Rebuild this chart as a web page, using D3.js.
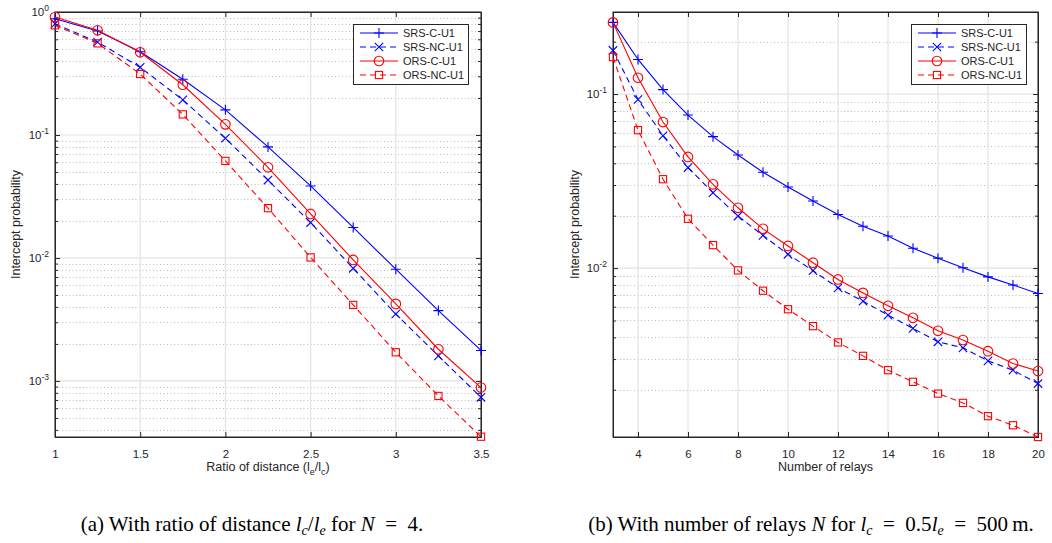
<!DOCTYPE html>
<html>
<head>
<meta charset="utf-8">
<script src="https://cdn.jsdelivr.net/npm/d3@7"></script>
<style>
  body { margin: 0; background: #fff; }
  text { font-family: "Liberation Sans", Arial, sans-serif; fill: #262626; }
  .cap { font-family: "Liberation Serif", "Times New Roman", serif; fill: #000; }
</style>
</head>
<body>
<svg width="1052" height="543"></svg>
<script>
// panel (a): ratio of distance
var ratios = [1, 1.25, 1.5, 1.75, 2, 2.25, 2.5, 2.75, 3, 3.25, 3.5]
var aSrsC  = [0.88, 0.70, 0.475, 0.284, 0.160, 0.080, 0.0385, 0.0177, 0.0081, 0.00373, 0.00177]
var aSrsNC = [0.80, 0.57, 0.355, 0.193, 0.094, 0.043, 0.0194, 0.00824, 0.0035, 0.0016, 0.000736]
var aOrsC  = [0.91, 0.71, 0.47, 0.256, 0.122, 0.0546, 0.0228, 0.00964, 0.00423, 0.00181, 0.000883]
var aOrsNC = [0.78, 0.556, 0.313, 0.147, 0.0615, 0.0254, 0.0101, 0.00415, 0.00171, 0.000755, 0.000352]
var aXTicks = [1, 1.5, 2, 2.5, 3, 3.5]

// panel (b): number of relays
var relays = [3, 4, 5, 6, 7, 8, 9, 10, 11, 12, 13, 14, 15, 16, 17, 18, 19, 20]
var bSrsC  = [0.258, 0.158, 0.106, 0.0757, 0.0569, 0.0446, 0.0355, 0.0292, 0.0243, 0.0203, 0.0174, 0.0153, 0.0130, 0.0114, 0.01005, 0.0089, 0.0080, 0.00714]
var bSrsNC = [0.178, 0.093, 0.0576, 0.0378, 0.0271, 0.0199, 0.0154, 0.0120, 0.00966, 0.0077, 0.00645, 0.00537, 0.0045, 0.00377, 0.00348, 0.00293, 0.00259, 0.00217]
var bOrsC  = [0.258, 0.124, 0.069, 0.0435, 0.0303, 0.0222, 0.0168, 0.0134, 0.01074, 0.0086, 0.0072, 0.00607, 0.00518, 0.00436, 0.00386, 0.00333, 0.00283, 0.00256]
var bOrsNC = [0.163, 0.062, 0.0324, 0.0192, 0.01355, 0.0097, 0.00741, 0.0058, 0.00464, 0.00374, 0.00313, 0.00259, 0.00222, 0.0019, 0.00168, 0.00141, 0.00125, 0.00107]
var bXTicks = [4, 6, 8, 10, 12, 14, 16, 18, 20]

var seriesNames = ['SRS-C-U1', 'SRS-NC-U1', 'ORS-C-U1', 'ORS-NC-U1']
var seriesColors = ['#0000ff', '#0000ff', '#ff0000', '#ff0000']
var seriesDash = [null, '6,4', null, '6,4']
var seriesMarks = ['plus', 'cross', 'circle', 'square']

var svg = d3.select('svg')

function marker(g, kind, color) {
  if (kind == 'plus') {
    g.append('path').attr('d', 'M-5,0H5M0,-5V5')
  } else if (kind == 'cross') {
    g.append('path').attr('d', 'M-4.2,-4.2L4.2,4.2M-4.2,4.2L4.2,-4.2')
  } else if (kind == 'circle') {
    g.append('circle').attr('r', 4.8)
  } else {
    g.append('rect').attr('x', -3.6).attr('y', -3.6).attr('width', 7.2).attr('height', 7.2)
  }
  g.selectAll('*').attr('fill', 'none').attr('stroke', color).attr('stroke-width', 1.1)
}

function panel(cfg) {
  var x = d3.scaleLinear().domain(cfg.xdom).range([cfg.left, cfg.right])
  var y = d3.scaleLog().domain(cfg.ydom).range([437, 12])
  var g = svg.append('g')
  var top = 12, bot = 437

  // log ticks
  var d0 = Math.floor(Math.log10(cfg.ydom[0])), d1 = Math.ceil(Math.log10(cfg.ydom[1]))
  var minor = [], major = []
  for (var d = d0; d <= d1; d++) {
    for (var k = 1; k < 10; k++) {
      var v = k * Math.pow(10, d)
      if (v < cfg.ydom[0] * 0.999 || v > cfg.ydom[1] * 1.001) continue
      if (k == 1) major.push(v); else minor.push(v)
    }
  }

  // grid
  g.selectAll('.mg').data(minor).enter().append('line')
    .attr('x1', cfg.left).attr('x2', cfg.right)
    .attr('y1', function (d) { return Math.round(y(d)) + .5 }).attr('y2', function (d) { return Math.round(y(d)) + .5 })
    .attr('stroke', '#bdbdbd').attr('stroke-dasharray', '1,2.5')
  g.selectAll('.Mg').data(major).enter().append('line')
    .attr('x1', cfg.left).attr('x2', cfg.right)
    .attr('y1', function (d) { return y(d) }).attr('y2', function (d) { return y(d) })
    .attr('stroke', '#e3e3e3').attr('stroke-width', 1.2)
  g.selectAll('.xg').data(cfg.xticks).enter().append('line')
    .attr('y1', top).attr('y2', bot)
    .attr('x1', function (d) { return x(d) }).attr('x2', function (d) { return x(d) })
    .attr('stroke', '#e3e3e3').attr('stroke-width', 1.2)

  // axes
  var xa = g.append('g').attr('transform', 'translate(0,' + bot + ')')
    .call(d3.axisBottom(x).tickValues(cfg.xticks).tickSize(-5).tickPadding(13).tickFormat(d3.format('')))
  xa.selectAll('text').attr('font-size', 11.5)
  g.append('g').attr('transform', 'translate(0,' + top + ')')
    .call(d3.axisTop(x).tickValues(cfg.xticks).tickSize(-5).tickFormat(''))

  var ya = g.append('g').attr('transform', 'translate(' + cfg.left + ',0)')
    .call(d3.axisLeft(y).tickValues(major.concat(minor)).tickSize(-5).tickPadding(9).tickFormat(''))
  ya.selectAll('.tick line').attr('x2', function (d) { return major.indexOf(d) >= 0 ? 5 : 3 })
  g.append('g').attr('transform', 'translate(' + cfg.right + ',0)')
    .call(d3.axisRight(y).tickValues(major.concat(minor)).tickSize(-5).tickFormat(''))
    .selectAll('.tick line').attr('x2', function (d) { return major.indexOf(d) >= 0 ? -5 : -3 })

  g.selectAll('.domain').attr('stroke', '#262626')
  g.selectAll('.tick line').attr('stroke', '#262626')

  // y tick labels with superscript
  major.forEach(function (v) {
    var t = g.append('text').attr('x', cfg.left - 6).attr('y', y(v) + 4)
      .attr('text-anchor', 'end').attr('font-size', 11.5)
    t.append('tspan').text('10')
    t.append('tspan').attr('dy', -5).attr('font-size', 8.5).text(Math.round(Math.log10(v)))
  })

  // box outline
  g.append('rect').attr('x', cfg.left).attr('y', top).attr('width', cfg.right - cfg.left).attr('height', bot - top)
    .attr('fill', 'none').attr('stroke', '#262626').attr('stroke-width', 1)

  // series
  var line = d3.line().x(function (d) { return x(d[0]) }).y(function (d) { return y(d[1]) })
  cfg.series.forEach(function (s, i) {
    var pts = cfg.xs.map(function (xv, j) { return [xv, s[j]] })
    g.append('path').attr('d', line(pts)).attr('fill', 'none')
      .attr('stroke', seriesColors[i]).attr('stroke-width', 1.1)
      .attr('stroke-dasharray', seriesDash[i])
    pts.forEach(function (p) {
      marker(g.append('g').attr('transform', 'translate(' + x(p[0]) + ',' + y(p[1]) + ')'), seriesMarks[i], seriesColors[i])
    })
  })

  // labels
  var xl = g.append('text').attr('x', (cfg.left + cfg.right) / 2).attr('y', 471)
    .attr('text-anchor', 'middle').attr('font-size', 12.5)
  cfg.xlabel(xl)
  g.append('text').attr('transform', 'translate(' + cfg.ylabx + ',' + (top + bot) / 2 + ') rotate(-90)')
    .attr('text-anchor', 'middle').attr('font-size', 12.5).text('Intercept probability')

  // legend
  var lx = cfg.legx, ly = 24
  var lg = g.append('g').attr('transform', 'translate(' + lx + ',' + ly + ')')
  lg.append('rect').attr('x', .5).attr('y', .5).attr('width', 115).attr('height', 60)
    .attr('fill', '#fff').attr('stroke', '#262626')
  seriesNames.forEach(function (n, i) {
    var ry = 9 + i * 14
    lg.append('line').attr('x1', 7).attr('x2', 45).attr('y1', ry).attr('y2', ry)
      .attr('stroke', seriesColors[i]).attr('stroke-width', 1.1).attr('stroke-dasharray', seriesDash[i])
    marker(lg.append('g').attr('transform', 'translate(26,' + ry + ')'), seriesMarks[i], seriesColors[i])
    lg.append('text').attr('x', 50).attr('y', ry + 4).attr('font-size', 11).text(n)
  })

  // caption
  var cap = svg.append('text').attr('class', 'cap').attr('x', cfg.capx).attr('y', 531)
    .attr('text-anchor', 'middle').attr('font-size', 21)
  cfg.caption(cap)
}

panel({
  xdom: [1, 3.5], ydom: [3.5e-4, 1], left: 55, right: 481,
  xs: ratios, xticks: aXTicks, series: [aSrsC, aSrsNC, aOrsC, aOrsNC],
  legx: 353, ylabx: 20, capx: 252,
  xlabel: function (t) {
    t.append('tspan').text('Ratio of distance (l')
    t.append('tspan').attr('dy', 4).attr('font-size', 9).text('e')
    t.append('tspan').attr('dy', -4).text('/l')
    t.append('tspan').attr('dy', 4).attr('font-size', 9).text('c')
    t.append('tspan').attr('dy', -4).text(')')
  },
  caption: function (t) {
    t.append('tspan').text('(a) With ratio of distance ')
    t.append('tspan').attr('font-style', 'italic').text('l')
    t.append('tspan').attr('dy', 4).attr('font-size', 14).attr('font-style', 'italic').text('c')
    t.append('tspan').attr('dy', -4).text('/')
    t.append('tspan').attr('font-style', 'italic').text('l')
    t.append('tspan').attr('dy', 4).attr('font-size', 14).attr('font-style', 'italic').text('e')
    t.append('tspan').attr('dy', -4).text(' for ')
    t.append('tspan').attr('font-style', 'italic').text('N')
    t.append('tspan').text('\u2002=\u20024.')
  }
})

panel({
  xdom: [3, 20], ydom: [1.07e-3, 0.296], left: 613, right: 1038,
  xs: relays, xticks: bXTicks, series: [bSrsC, bSrsNC, bOrsC, bOrsNC],
  legx: 911, ylabx: 579, capx: 811,
  xlabel: function (t) { t.text('Number of relays') },
  caption: function (t) {
    t.append('tspan').text('(b) With number of relays ')
    t.append('tspan').attr('font-style', 'italic').text('N')
    t.append('tspan').text(' for ')
    t.append('tspan').attr('font-style', 'italic').text('l')
    t.append('tspan').attr('dy', 4).attr('font-size', 14).attr('font-style', 'italic').text('c')
    t.append('tspan').attr('dy', -4).text('\u2002=\u20020.5')
    t.append('tspan').attr('font-style', 'italic').text('l')
    t.append('tspan').attr('dy', 4).attr('font-size', 14).attr('font-style', 'italic').text('e')
    t.append('tspan').attr('dy', -4).text('\u2002=\u2002500\u2009m.')
  }
})
</script>
</body>
</html>
